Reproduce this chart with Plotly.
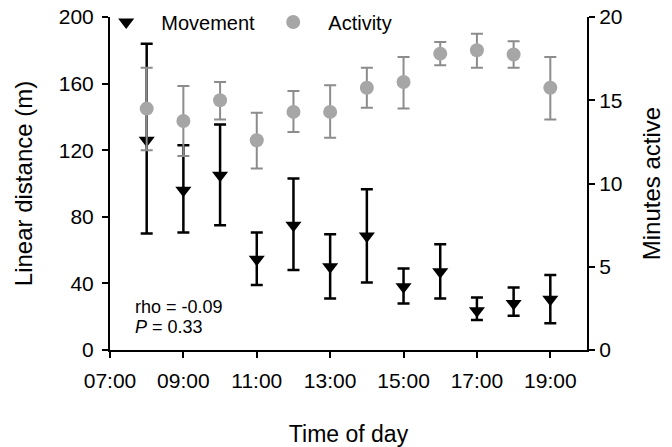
import plotly.graph_objects as go

hours = [8, 9, 10, 11, 12, 13, 14, 15, 16, 17, 18, 19]
tick_vals = [7, 9, 11, 13, 15, 17, 19]
tick_text = ["07:00", "09:00", "11:00", "13:00", "15:00", "17:00", "19:00"]

move_mean = [126, 96, 105, 54.5, 75, 50, 68.5, 38, 47, 23.5, 28, 30.5]
move_upper = [184, 123, 135.5, 70.5, 103, 69.5, 96.5, 49, 63.5, 31.5, 37.5, 45]
move_lower = [70, 70.5, 75, 39, 48, 31, 40.5, 28, 31, 18, 20.5, 16]

act_mean = [14.5, 13.75, 15.0, 12.6, 14.3, 14.3, 15.75, 16.1, 17.8, 18.0, 17.75, 15.75]
act_upper = [16.95, 15.85, 16.1, 14.25, 15.55, 15.9, 16.95, 17.6, 18.5, 19.0, 18.55, 17.6]
act_lower = [12.0, 11.65, 13.85, 10.9, 13.1, 12.75, 14.55, 14.5, 17.1, 16.95, 16.95, 13.85]

FONT = "Liberation Sans, Arial, sans-serif"
GAP = "\u00a0\u00a0\u2009"

fig = go.Figure()
fig.add_trace(go.Scatter(
    x=hours, y=move_mean, mode="markers", name=GAP + "Movement",
    marker=dict(symbol="triangle-down", size=14, color="black"),
    error_y=dict(type="data", symmetric=False,
                 array=[u - m for u, m in zip(move_upper, move_mean)],
                 arrayminus=[m - l for m, l in zip(move_mean, move_lower)],
                 color="black", thickness=2.5, width=6),
))
fig.add_trace(go.Scatter(
    x=hours, y=act_mean, mode="markers", name=GAP + "Activity", yaxis="y2",
    marker=dict(symbol="circle", size=14, color="#a6a6a6"),
    error_y=dict(type="data", symmetric=False,
                 array=[u - m for u, m in zip(act_upper, act_mean)],
                 arrayminus=[m - l for m, l in zip(act_mean, act_lower)],
                 color="#8c8c8c", thickness=2, width=6),
))

axis_common = dict(showline=True, linecolor="black", linewidth=2, ticks="outside",
                   ticklen=6, tickwidth=2, tickcolor="black", showgrid=False,
                   zeroline=False, tickfont=dict(family=FONT, size=21, color="black"))

fig.update_layout(
    width=672, height=447,
    margin=dict(l=110, r=85, t=17, b=97, autoexpand=False),
    paper_bgcolor="white", plot_bgcolor="white",
    font=dict(family=FONT, color="black"),
    xaxis=dict(range=[7, 20], tickvals=tick_vals, ticktext=tick_text, ticklabelstandoff=5,
               title=dict(text="Time of day", font=dict(size=23), standoff=38),
               **axis_common),
    yaxis=dict(range=[0, 200], tickvals=[0, 40, 80, 120, 160, 200], ticklabelstandoff=4,
               title=dict(text="Linear distance (m)", font=dict(size=24), standoff=19),
               **axis_common),
    yaxis2=dict(range=[0, 20], tickvals=[0, 5, 10, 15, 20], overlaying="y", side="right",
                title=dict(text="Minutes active", font=dict(size=24), standoff=22),
                **axis_common),
    showlegend=True,
    legend=dict(orientation="h", x=-0.008, xanchor="left", y=0.985, yanchor="middle",
                font=dict(family=FONT, size=20, color="black"),
                bgcolor="rgba(0,0,0,0)", entrywidth=122, entrywidthmode="pixels"),
    annotations=[
        dict(text="rho = -0.09", xref="paper", yref="paper",
             x=(133 - 110) / 477, y=(350 - 307) / 333, xanchor="left", yanchor="middle",
             showarrow=False, font=dict(family=FONT, size=18, color="black")),
        dict(text="<i>P</i> = 0.33", xref="paper", yref="paper",
             x=(133 - 110) / 477, y=(350 - 327) / 333, xanchor="left", yanchor="middle",
             showarrow=False, font=dict(family=FONT, size=18, color="black")),
    ],
)

fig.write_html("out.html")
